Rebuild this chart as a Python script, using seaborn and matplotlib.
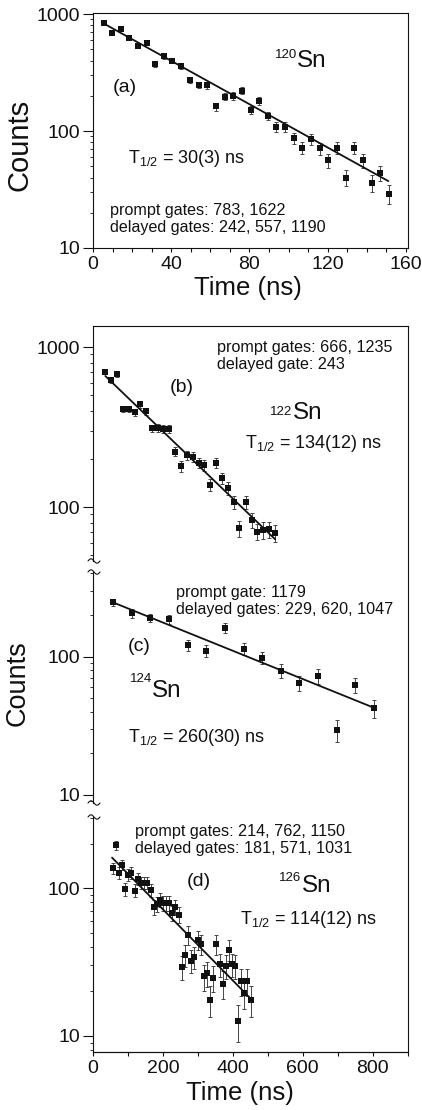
import numpy as np
import pandas as pd
import matplotlib
matplotlib.use("Agg")
import matplotlib.pyplot as plt
import seaborn as sns
from matplotlib.ticker import MultipleLocator, LogLocator, NullFormatter, FuncFormatter
from matplotlib.lines import Line2D

sns.set_theme(style="ticks")
plt.rcParams['font.family'] = ['Liberation Sans', 'DejaVu Sans']
plt.rcParams['mathtext.fontset'] = 'custom'
plt.rcParams['mathtext.rm'] = 'Liberation Sans'
plt.rcParams['text.color'] = '#111111'

W, H = 422, 1110   # output size in pixels

# ------------------------- data ------------------
# (a) 120Sn
t_a = [5.5, 9.7, 14.1, 18.6, 23.0, 27.4, 31.9, 36.3, 40.6, 45.0, 49.6, 54.0,
       58.4, 62.9, 67.3, 71.7, 76.2, 80.6, 85.0, 89.5, 93.7, 98.1, 102.6, 107.0,
       111.4, 115.9, 120.3, 124.7, 129.2, 133.6, 138.0, 142.4, 146.9, 151.3]
c_a = [832, 684, 749, 624, 535, 569, 373, 435, 399, 357, 272, 248,
       245, 162, 197, 200, 221, 151, 180, 135, 108, 109, 87, 72,
       85, 71, 56, 72, 40, 72, 56, 36, 44, 29]
fit_a_t = [4.4, 151.0]
fit_a_c = [849, 37.3]

# (b) 122Sn
t_b = [35.3, 51.5, 67.7, 85.8, 102, 119, 135.4, 151.6, 168.8, 185, 201, 218,
       234.6, 251.7, 268, 285, 302, 318.4, 334.7, 351.8, 368, 385, 403, 418.5,
       436.7, 454, 469, 486, 502.5, 519.6]
c_b = [701, 622, 678, 410, 410, 391, 438, 398, 310, 313, 306, 306,
       222, 180, 211, 206, 189, 182, 137, 188, 151, 131, 107, 73.6,
       107, 83, 70.2, 71.8, 72.4, 69]
fit_b_t = [35.3, 521.0]
fit_b_c = [659, 62.9]

# (c) 124Sn
t_c = [56.3, 110.6, 163, 217.4, 270.8, 324, 376.5, 430.7, 484, 537.8, 590,
       643.6, 697, 750.5, 803.8]
c_c = [247, 206, 191, 187, 121.5, 110, 162, 114, 98.4, 79.2, 64.9,
       72.4, 29.5, 62.4, 42.4]
fit_c_t = [51.5, 806.6]
fit_c_c = [250, 42.4]

# (d) 126Sn
t_d = [56, 65.8, 74.4, 83, 92.4, 101, 109.6, 119, 128.7, 137.3, 146, 154.5,
       165, 173.5, 182, 191.6, 199, 208.8, 218, 226.8, 235.4, 245, 253.6, 263,
       271.7, 281, 289.8, 299.4, 309, 317.6, 327, 334.7, 344, 352.7, 362.3,
       370.8, 379.4, 388, 396.6, 406, 414, 422.3, 432, 440.4, 451]
c_d = [136.5, 196, 127, 144, 98.5, 123, 127, 96.4, 115, 109, 109, 109,
       97.5, 74.5, 78.3, 83.4, 79.3, 79.3, 79.3, 67.8, 74.5, 66, 29.5, 35.4,
       48.3, 32.4, 34.2, 44.8, 42, 25.3, 26.7, 17.6, 24.7, 42, 30.6,
       22.6, 29.9, 38.3, 30.6, 29.9, 12.7, 23.6, 19.6, 23.6, 17.6]
fit_d_t = [54.4, 454.0]
fit_d_c = [161, 17.6]

gates_a = ["prompt gates: 783, 1622", "delayed gates: 242, 557, 1190"]
gates_b = ["prompt gates: 666, 1235", "delayed gate: 243"]
gates_c = ["prompt gate: 1179", "delayed gates: 229, 620, 1047"]
gates_d = ["prompt gates: 214, 762, 1150", "delayed gates: 181, 571, 1031"]
halflife = ["30(3)", "134(12)", "260(30)", "114(12)"]
mass = ["120", "122", "124", "126"]
tags = ["(a)", "(b)", "(c)", "(d)"]

# ------------------------- helpers -----------------------------------
fig = plt.figure(figsize=(W / 100, H / 100), dpi=100)


def rect(x0, x1, y0, y1):
    # pixel box (top-left origin) -> figure fraction
    return [x0 / W, 1 - y1 / H, (x1 - x0) / W, (y1 - y0) / H]


def ftext(x, y, s, **kw):
    kw.setdefault('va', 'baseline')
    fig.text(x / W, 1 - y / H, s, **kw)


def wave(cx, cy):
    xs = np.linspace(-6, 6, 40)
    ys = 2.2 * np.sin(np.pi * xs / 6)
    fig.add_artist(Line2D((cx + xs) / W, 1 - (cy + ys) / H,
                          transform=fig.transFigure, color='#111', lw=0.8))


def decay(ax, t, c, ft, fc, ylim):
    df = pd.DataFrame({'t': t, 'c': c})
    ax.set_yscale('log')
    # Poisson error bars
    ax.errorbar(df['t'], df['c'], yerr=np.sqrt(df['c']), fmt='none',
                ecolor='#444', elinewidth=0.7, capsize=1.5, capthick=0.7, zorder=2)
    sns.scatterplot(data=df, x='t', y='c', marker='s', s=16, color='#111',
                    linewidth=0, ax=ax, zorder=3)
    sns.lineplot(x=ft, y=fc, color='#111', lw=1.3, ax=ax, zorder=4)
    ax.set_ylim(*ylim)
    ax.set_xlabel(''); ax.set_ylabel('')
    ax.yaxis.set_major_locator(LogLocator(base=10, numticks=10))
    ax.yaxis.set_major_formatter(FuncFormatter(lambda v, _: f"{v:g}"))
    ax.yaxis.set_minor_locator(LogLocator(base=10, subs=np.arange(2, 10), numticks=20))
    ax.yaxis.set_minor_formatter(NullFormatter())
    ax.tick_params(axis='y', which='major', length=7.5, width=0.8, labelsize=14,
                   pad=1.5, colors='#111')
    ax.tick_params(axis='y', which='minor', length=2, width=0.6, colors='#111')
    ax.tick_params(axis='x', which='both', length=3, width=0.8, labelsize=14,
                   pad=3, colors='#111')
    for sp in ax.spines.values():
        sp.set_linewidth(0.8); sp.set_color('#111')
    ax.patch.set_alpha(0)


def labels(i, gates, gx, gy, tx, ty, sx, sy, mtop, px, py):
    ftext(gx, gy, gates[0], fontsize=11.6)
    ftext(gx, gy + 17, gates[1], fontsize=11.6)
    ftext(tx, ty, r"T$_{\mathregular{1/2}}$ = " + halflife[i] + " ns", fontsize=13)
    ftext(sx, sy, "Sn", fontsize=17.5)
    ftext(sx, mtop, mass[i], fontsize=9.5, ha='right', va='top')
    ftext(px, py, tags[i], fontsize=14, va='center')


# ------------------------- panel (a) ---------------------------------
ax_a = fig.add_axes(rect(93, 408.3, 12.7, 248))
decay(ax_a, t_a, c_a, fit_a_t, fit_a_c, (10, 1026))
ax_a.set_xlim(0, 161.2)
ax_a.xaxis.set_major_locator(MultipleLocator(40))
ax_a.xaxis.set_minor_locator(MultipleLocator(10))
labels(0, gates_a, 110, 215, 128, 163, 297, 66.7, 48.5, 113, 88)
ftext(20, 145, "Counts", fontsize=21, rotation=90, ha='center', va='center')
ftext(248, 288, "Time (ns)", fontsize=18.5, ha='center', va='center')

# ------------------------- panels (b)-(d), shared frame --------------
frame = fig.add_axes(rect(93, 408.3, 326, 1051.7))
frame.set_xticks([]); frame.set_yticks([])
frame.spines['left'].set_visible(False)
for sp in ['top', 'right', 'bottom']:
    frame.spines[sp].set_linewidth(0.8); frame.spines[sp].set_color('#111')
frame.patch.set_alpha(0)

ax_b = fig.add_axes(rect(93, 408.3, 326, 561))
ax_c = fig.add_axes(rect(93, 408.3, 572, 803))
ax_d = fig.add_axes(rect(93, 408.3, 817, 1051.7))
decay(ax_b, t_b, c_b, fit_b_t, fit_b_c, (46, 1353))
decay(ax_c, t_c, c_c, fit_c_t, fit_c_c, (8.75, 409))
decay(ax_d, t_d, c_d, fit_d_t, fit_d_c, (7.83, 303))

for ax in (ax_b, ax_c, ax_d):
    ax.set_xlim(0, 902)
    ax.xaxis.set_major_locator(MultipleLocator(200))
    ax.xaxis.set_minor_locator(MultipleLocator(100))
    ax.spines['top'].set_visible(False)
    ax.spines['right'].set_visible(False)
for ax in (ax_b, ax_c):
    ax.spines['bottom'].set_visible(False)
    ax.tick_params(axis='x', which='both', bottom=False, labelbottom=False)

labels(1, gates_b, 217, 351.7, 245, 448.3, 292.7, 419.3, 406, 170, 388)
labels(2, gates_c, 175.7, 596.7, 128.3, 741.7, 152.3, 696.7, 673.3, 128, 646.7)
labels(3, gates_d, 135, 836, 240, 924, 301.7, 891.7, 871.7, 187, 882)

for y in (561, 572, 803, 817):
    wave(94, y)

ftext(18, 683, "Counts", fontsize=19.5, rotation=90, ha='center', va='center')
ftext(240, 1093, "Time (ns)", fontsize=18.5, ha='center', va='center')

fig.savefig("out.png", dpi=100)
